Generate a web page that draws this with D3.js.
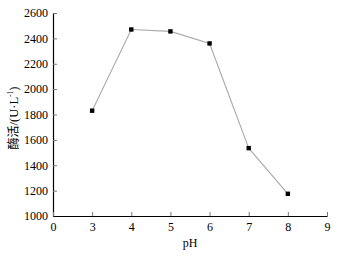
<!DOCTYPE html>
<html>
<head>
<meta charset="utf-8">
<script src="https://cdn.jsdelivr.net/npm/d3@7"></script>
<style>
  body { margin: 0; background: #fff; }
  svg text { font-family: "Liberation Serif", "DejaVu Serif", serif; }
</style>
</head>
<body>
<div id="chart"></div>
<script>
// x axis is broken: 0 then 3..9, all evenly spaced
const xLabels = ["0", "3", "4", "5", "6", "7", "8", "9"];
const yTicks = [1000, 1200, 1400, 1600, 1800, 2000, 2200, 2400, 2600];
const pH = [3, 4, 5, 6, 7, 8];
const activity = [1830, 2470, 2455, 2360, 1535, 1175];

const W = 338, H = 259;
// plot area edges (window.top is taken, so keep them in an object)
const plot = { left: 53, right: 327, top: 13, bottom: 216 };

const svg = d3.select("#chart").append("svg")
    .attr("width", W)
    .attr("height", H);

const x = d3.scaleLinear()
    .domain([0, xLabels.length - 1])
    .range([plot.left, plot.right]);

const y = d3.scaleLinear()
    .domain([1000, 2600])
    .range([plot.bottom, plot.top]);

const xPos = p => x(xLabels.indexOf(String(p)));

// y axis, ticks pointing inwards
const yAxis = svg.append("g")
    .attr("transform", `translate(${plot.left},0)`)
    .call(d3.axisLeft(y)
        .tickValues(yTicks)
        .tickFormat(d3.format("d"))
        .tickSizeInner(-4)
        .tickSizeOuter(0)
        .tickPadding(5));

// x axis
const xAxis = svg.append("g")
    .attr("transform", `translate(0,${plot.bottom})`)
    .call(d3.axisBottom(x)
        .tickValues(d3.range(xLabels.length))
        .tickFormat(i => xLabels[i])
        .tickSizeInner(-4)
        .tickSizeOuter(0)
        .tickPadding(6));

[yAxis, xAxis].forEach(ax => {
    ax.select(".domain").attr("stroke", "#000").attr("stroke-width", 1.2);
    ax.selectAll(".tick line").attr("stroke", "#777");
    ax.selectAll("text")
        .attr("font-size", 12)
        .attr("fill", "#000");
});

// line
const line = d3.line()
    .x((d, i) => xPos(pH[i]))
    .y(d => y(d));

svg.append("path")
    .datum(activity)
    .attr("fill", "none")
    .attr("stroke", "#aaa")
    .attr("stroke-width", 1.1)
    .attr("d", line);

// square markers
svg.selectAll("rect.pt")
    .data(activity)
    .enter()
    .append("rect")
    .attr("class", "pt")
    .attr("x", (d, i) => xPos(pH[i]) - 2.2)
    .attr("y", d => y(d) - 2.2)
    .attr("width", 4.4)
    .attr("height", 4.4)
    .attr("fill", "#000");

// axis titles
svg.append("text")
    .attr("x", 190)
    .attr("y", 247)
    .attr("text-anchor", "middle")
    .attr("font-size", 12)
    .text("pH");

const yTitle = svg.append("text")
    .attr("transform", `translate(18,118) rotate(-90)`)
    .attr("text-anchor", "middle")
    .attr("font-size", 12.5);

yTitle.append("tspan")
    .style("font-family", "'Noto Sans CJK SC', sans-serif")
    .attr("font-size", 12)
    .text("酶活");
yTitle.append("tspan").text("/(U·L");
yTitle.append("tspan")
    .attr("font-size", 7.5)
    .attr("dy", -5)
    .text("-1");
yTitle.append("tspan")
    .attr("dy", 5)
    .text(")");
</script>
</body>
</html>
